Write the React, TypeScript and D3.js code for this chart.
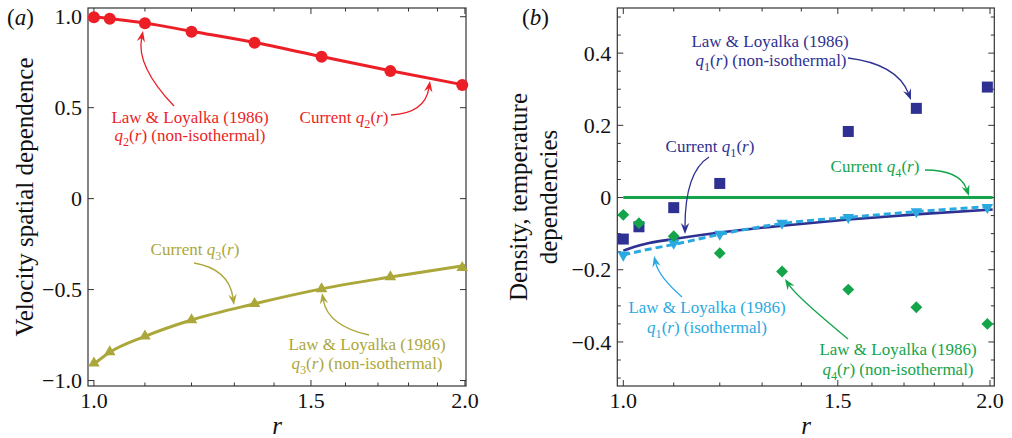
import React from "react";
import * as d3 from "d3";

// ---------- data ----------
// Law & Loyalka (1986) sample radii
const rLL = [1.0, 1.03, 1.1, 1.2, 1.35, 1.53, 1.74, 1.99];
const q2LL = [0.997, 0.989, 0.964, 0.918, 0.857, 0.78, 0.701, 0.625];
const q3LL = [-0.905, -0.843, -0.756, -0.667, -0.577, -0.496, -0.43, -0.379];
const q4LL = [-0.048, -0.071, -0.107, -0.154, -0.205, -0.255, -0.304, -0.35];
const rQ1LL = [1.0, 1.03, 1.1, 1.2, 1.53, 1.74, 1.99];
const q1LL = [-0.115, -0.081, -0.028, 0.039, 0.183, 0.247, 0.306];
const rQ1Iso = [1.0, 1.1, 1.2, 1.35, 1.53, 1.74, 1.99];
const q1Iso = [-0.159, -0.126, -0.101, -0.071, -0.055, -0.039, -0.027];

// Current solution curves
const rCur = [1.0, 1.03, 1.1, 1.2, 1.35, 1.53, 1.74, 2.0];
const q2Cur = [1.0, 0.99, 0.966, 0.92, 0.858, 0.781, 0.703, 0.624];
const q3Cur = [-0.91, -0.845, -0.757, -0.667, -0.578, -0.496, -0.431, -0.368];
const rQ1Cur = [1.0, 1.02, 1.05, 1.1, 1.2, 1.35, 1.53, 1.75, 2.01];
const q1Cur = [-0.147, -0.137, -0.126, -0.115, -0.097, -0.078, -0.061, -0.046, -0.033];
const rQ1IsoLine = [1.0, 1.05, 1.1, 1.2, 1.35, 1.53, 1.74, 2.01];
const q1IsoLine = [-0.159, -0.143, -0.13, -0.102, -0.072, -0.055, -0.039, -0.024];
const rQ4Cur = [1.0, 2.01];
const q4Cur = [0, 0];

// ticks
const xMajor = [1.0, 1.5, 2.0];
const xMajorLabels = ["1.0", "1.5", "2.0"];
const xMinor = [1.1, 1.2, 1.3, 1.4, 1.6, 1.7, 1.8, 1.9];
const yMajorA = [-1, -0.5, 0, 0.5, 1];
const yMajorALabels = ["\u22121.0", "\u22120.5", "0", "0.5", "1.0"];
const yMinorA: number[] = [];
const yMajorB = [-0.4, -0.2, 0, 0.2, 0.4];
const yMajorBLabels = ["\u22120.4", "\u22120.2", "0", "0.2", "0.4"];
const yMinorB = [-0.5, -0.45, -0.35, -0.3, -0.25, -0.15, -0.1, -0.05, 0.05, 0.1, 0.15, 0.25, 0.3, 0.35, 0.45, 0.5];

// ---------- styles ----------
const FONT = "'Liberation Serif','Times New Roman',serif";
const C = {
  red: "#ec1f27",
  olive: "#aca73a",
  navy: "#2e3192",
  sky: "#2aa9e1",
  green: "#14a44a",
  frame: "#333333",
  text: "#111111",
};

type Seg = { t: string; i?: boolean; sub?: boolean };

function Rich({ x, y, segs, size, fill, anchor = "middle" }: { x: number; y: number; segs: Seg[]; size: number; fill: string; anchor?: string }) {
  const out: React.ReactNode[] = [];
  let inSub = false;
  const shift = size * 0.28;
  segs.forEach((s, k) => {
    let dy = 0;
    if (s.sub && !inSub) { dy = shift; inSub = true; }
    else if (!s.sub && inSub) { dy = -shift; inSub = false; }
    out.push(
      <tspan key={k} dy={dy || undefined} fontStyle={s.i ? "italic" : "normal"} fontSize={s.sub ? size * 0.72 : size}>
        {s.t}
      </tspan>
    );
  });
  return (
    <text x={x} y={y} fill={fill} fontFamily={FONT} fontSize={size} textAnchor={anchor as any} style={{ whiteSpace: "pre" }}>
      {out}
    </text>
  );
}

const qSegs = (n: number, suffix: string): Seg[] => [
  { t: "q", i: true },
  { t: String(n), sub: true },
  { t: "(" },
  { t: "r", i: true },
  { t: ")" + suffix },
];
const LL: Seg[] = [{ t: "Law & Loyalka (1986)" }];
const cur = (n: number): Seg[] => [{ t: "Current " }, ...qSegs(n, "")];

function Arrow({ s, c, e, color }: { s: [number, number]; c: [number, number]; e: [number, number]; color: string }) {
  const dx = e[0] - c[0];
  const dy = e[1] - c[1];
  const len = Math.hypot(dx, dy) || 1;
  const ux = dx / len, uy = dy / len;
  const px = -uy, py = ux;
  const L = 11, W = 4.2;
  const base: [number, number] = [e[0] - ux * L * 0.65, e[1] - uy * L * 0.65];
  const p = d3.path();
  p.moveTo(s[0], s[1]);
  p.quadraticCurveTo(c[0], c[1], base[0], base[1]);
  const head = [
    [e[0], e[1]],
    [e[0] - ux * L + px * W, e[1] - uy * L + py * W],
    [e[0] - ux * L * 0.65, e[1] - uy * L * 0.65],
    [e[0] - ux * L - px * W, e[1] - uy * L - py * W],
  ];
  return (
    <g>
      <path d={p.toString()} fill="none" stroke={color} strokeWidth={1.3} />
      <polygon points={head.map((h) => h.join(",")).join(" ")} fill={color} />
    </g>
  );
}

function Frame({ x, y, yMajor, yLabels, yMinor }: { x: any; y: any; yMajor: number[]; yLabels: string[]; yMinor: number[] }) {
  const [x0, x1] = x.range();
  const [y0, y1] = y.range(); // y0 bottom, y1 top
  const M = 6, m = 3.5;
  const items: React.ReactNode[] = [];
  xMajor.forEach((v, k) => {
    const px = x(v);
    items.push(<line key={"xb" + k} x1={px} x2={px} y1={y0} y2={y0 - M} />);
    items.push(<line key={"xt" + k} x1={px} x2={px} y1={y1} y2={y1 + M} />);
  });
  xMinor.forEach((v, k) => {
    const px = x(v);
    items.push(<line key={"xmb" + k} x1={px} x2={px} y1={y0} y2={y0 - m} />);
    items.push(<line key={"xmt" + k} x1={px} x2={px} y1={y1} y2={y1 + m} />);
  });
  yMajor.forEach((v, k) => {
    const py = y(v);
    items.push(<line key={"yl" + k} x1={x0} x2={x0 + M} y1={py} y2={py} />);
    items.push(<line key={"yr" + k} x1={x1} x2={x1 - M} y1={py} y2={py} />);
  });
  yMinor.forEach((v, k) => {
    const py = y(v);
    items.push(<line key={"yml" + k} x1={x0} x2={x0 + m} y1={py} y2={py} />);
    items.push(<line key={"ymr" + k} x1={x1} x2={x1 - m} y1={py} y2={py} />);
  });
  return (
    <g>
      <rect x={x0} y={y1} width={x1 - x0} height={y0 - y1} fill="none" stroke={C.frame} strokeWidth={1.2} />
      <g stroke={C.frame} strokeWidth={1}>{items}</g>
      <g fontFamily={FONT} fontSize={22} fill={C.text}>
        {xMajor.map((v, k) => (
          <text key={"xl" + k} x={x(v)} y={y0 + 22} textAnchor="middle">{xMajorLabels[k]}</text>
        ))}
        {yMajor.map((v, k) => (
          <text key={"ylab" + k} x={x0 - 6} y={y(v)} dy="0.35em" textAnchor="end">{yLabels[k]}</text>
        ))}
      </g>
    </g>
  );
}

export default function App() {
  const xA = d3.scaleLog().domain([0.989, 2.004]).range([88, 466]);
  const yA = d3.scaleLinear().domain([-1.03, 1.048]).range([386, 8]);
  const xB = d3.scaleLog().domain([0.9887, 2.0163]).range([617.3, 994.3]);
  const yB = d3.scaleLinear().domain([-0.522, 0.525]).range([386, 8]);

  const mkLine = (x: any, y: any, rs: number[], vs: number[], curve: any = d3.curveMonotoneX) =>
    d3.line<number>().x((_, i) => x(rs[i])).y((v) => y(v)).curve(curve)(vs) || "";

  const tri = d3.symbol().type(d3.symbolTriangle).size(58)() || "";

  return (
    <svg width={1012} height={438} style={{ position: "absolute", left: 0, top: 0, background: "#fff" }}>
      {/* ===== Panel (a) ===== */}
      <Frame x={xA} y={yA} yMajor={yMajorA} yLabels={yMajorALabels} yMinor={yMinorA} />
      <path d={mkLine(xA, yA, rCur, q2Cur)} fill="none" stroke={C.red} strokeWidth={3} />
      <path d={mkLine(xA, yA, rCur, q3Cur)} fill="none" stroke={C.olive} strokeWidth={3} />
      {rLL.map((r, i) => (
        <circle key={"c" + i} cx={xA(r)} cy={yA(q2LL[i])} r={6} fill={C.red} />
      ))}
      {rLL.map((r, i) => (
        <path key={"t" + i} d={tri} transform={`translate(${xA(r)},${yA(q3LL[i])})`} fill={C.olive} />
      ))}

      <Rich x={190} y={123} segs={LL} size={17} fill={C.red} />
      <Rich x={190} y={141} segs={qSegs(2, " (non-isothermal)")} size={17} fill={C.red} />
      <Arrow s={[174, 106]} c={[136, 66]} e={[143, 31]} color={C.red} />
      <Rich x={344} y={123} segs={cur(2)} size={17} fill={C.red} />
      <Arrow s={[391, 115]} c={[425, 113]} e={[430, 81]} color={C.red} />

      <Rich x={195} y={255} segs={cur(3)} size={17} fill={C.olive} />
      <Arrow s={[194, 263]} c={[229, 269]} e={[234, 305]} color={C.olive} />
      <Rich x={367} y={350} segs={LL} size={17} fill={C.olive} />
      <Rich x={367} y={369} segs={qSegs(3, " (non-isothermal)")} size={17} fill={C.olive} />
      <Arrow s={[369, 335]} c={[328, 326]} e={[322, 293]} color={C.olive} />

      <text x={7} y={25} fontFamily={FONT} fontSize={23} fill={C.text}>
        <tspan>(</tspan><tspan fontStyle="italic">a</tspan><tspan>)</tspan>
      </text>
      <text transform="translate(33,197) rotate(-90)" textAnchor="middle" fontFamily={FONT} fontSize={25} fill={C.text}>
        Velocity spatial dependence
      </text>
      <text x={277} y={434} textAnchor="middle" fontFamily={FONT} fontSize={25} fontStyle="italic" fill={C.text}>r</text>

      {/* ===== Panel (b) ===== */}
      <Frame x={xB} y={yB} yMajor={yMajorB} yLabels={yMajorBLabels} yMinor={yMinorB} />
      <path d={mkLine(xB, yB, rQ4Cur, q4Cur, d3.curveLinear)} fill="none" stroke={C.green} strokeWidth={3} />
      <path d={mkLine(xB, yB, rQ1Cur, q1Cur)} fill="none" stroke={C.navy} strokeWidth={2.6} />
      <path d={mkLine(xB, yB, rQ1IsoLine, q1IsoLine)} fill="none" stroke={C.sky} strokeWidth={3} strokeDasharray="7,4" />
      {rQ1LL.map((r, i) => (
        <rect key={"s" + i} x={xB(r) - 5.5} y={yB(q1LL[i]) - 5.5} width={11} height={11} fill={C.navy} />
      ))}
      {rQ1Iso.map((r, i) => (
        <path key={"d" + i} d={tri} transform={`translate(${xB(r)},${yB(q1Iso[i])}) rotate(180)`} fill={C.sky} />
      ))}
      {rLL.map((r, i) => (
        <rect key={"g" + i} x={-4.2} y={-4.2} width={8.4} height={8.4} fill={C.green}
          transform={`translate(${xB(r)},${yB(q4LL[i])}) rotate(45)`} />
      ))}

      <Rich x={770} y={47} segs={LL} size={17} fill={C.navy} />
      <Rich x={771} y={66} segs={qSegs(1, " (non-isothermal)")} size={17} fill={C.navy} />
      <Arrow s={[848, 58]} c={[897, 64]} e={[911, 100]} color={C.navy} />

      <Rich x={710} y={152} segs={cur(1)} size={17} fill={C.navy} />
      <Arrow s={[709, 157]} c={[685, 172]} e={[685, 234]} color={C.navy} />

      <Rich x={875} y={172} segs={cur(4)} size={17} fill={C.green} />
      <Arrow s={[925, 170]} c={[960, 170]} e={[969, 196]} color={C.green} />

      <Rich x={707} y={313} segs={LL} size={17} fill={C.sky} />
      <Rich x={707} y={333} segs={qSegs(1, " (isothermal)")} size={17} fill={C.sky} />
      <Arrow s={[682, 297]} c={[659, 277]} e={[654, 256]} color={C.sky} />

      <Rich x={898} y={355} segs={LL} size={17} fill={C.green} />
      <Rich x={898} y={375} segs={qSegs(4, " (non-isothermal)")} size={17} fill={C.green} />
      <Arrow s={[848, 339]} c={[797, 297]} e={[785, 279]} color={C.green} />

      <text x={522} y={25} fontFamily={FONT} fontSize={23} fill={C.text}>
        <tspan>(</tspan><tspan fontStyle="italic">b</tspan><tspan>)</tspan>
      </text>
      <text transform="translate(527,197) rotate(-90)" textAnchor="middle" fontFamily={FONT} fontSize={25} fill={C.text}>
        Density, temperature
      </text>
      <text transform="translate(557,197) rotate(-90)" textAnchor="middle" fontFamily={FONT} fontSize={25} fill={C.text}>
        dependencies
      </text>
      <text x={806} y={434} textAnchor="middle" fontFamily={FONT} fontSize={25} fontStyle="italic" fill={C.text}>r</text>
    </svg>
  );
}
